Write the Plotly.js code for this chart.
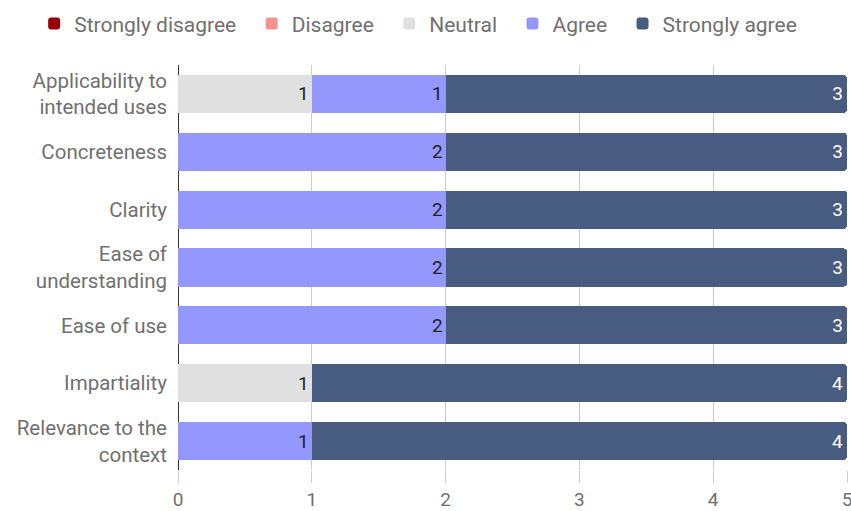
<!DOCTYPE html>
<html>
<head>
<meta charset="utf-8">
<script src="https://cdn.plot.ly/plotly-3.0.1.min.js"></script>
<style>html,body{margin:0;padding:0;background:#fff;}#chart{width:851px;height:511px;}</style>
</head>
<body>
<div id="chart"></div>
<script>
var categories = [
  "Applicability to<br>intended uses",
  "Concreteness",
  "Clarity",
  "Ease of<br>understanding",
  "Ease of use",
  "Impartiality",
  "Relevance to the<br>context"
];
var seriesNames = ["Strongly disagree", "Disagree", "Neutral", "Agree", "Strongly agree"];
var stronglyDisagree = [0, 0, 0, 0, 0, 0, 0];
var disagree         = [0, 0, 0, 0, 0, 0, 0];
var neutral          = [1, 0, 0, 0, 0, 1, 0];
var agree            = [1, 2, 2, 2, 2, 0, 1];
var stronglyAgree    = [3, 3, 3, 3, 3, 4, 4];
var xTicks = [0, 1, 2, 3, 4, 5];

var colors = ["#990000", "#f4928f", "#e0e0e0", "#9497fb", "#485b80"];
var textColors = ["#ffffff", "#222222", "#222222", "#222222", "#ffffff"];
var allValues = [stronglyDisagree, disagree, neutral, agree, stronglyAgree];

var FONT = "Roboto, 'Noto Sans', Arial, sans-serif";
var GRAY = "#707070";
var PAD = "\u00a0\u00a0";

var traces = allValues.map(function (vals, i) {
  return {
    type: "bar",
    orientation: "h",
    name: seriesNames[i] + (i < seriesNames.length - 1 ? PAD : ""),
    y: categories,
    x: vals,
    text: vals.map(function (v) { return v > 0 ? String(v) : ""; }),
    textposition: "inside",
    insidetextanchor: "end",
    textangle: 0,
    constraintext: "none",
    textfont: { family: FONT, size: 19, color: textColors[i] },
    marker: { color: colors[i], line: { width: 0 } },
    hoverinfo: "x+name"
  };
});

var layout = {
  width: 851,
  height: 511,
  margin: { l: 178, r: 4, t: 63, b: 41, pad: 0 },
  barmode: "stack",
  bargap: 0.34,
  barcornerradius: 4,
  paper_bgcolor: "#ffffff",
  plot_bgcolor: "#ffffff",
  font: { family: FONT, size: 21, color: GRAY },
  showlegend: true,
  legend: {
    orientation: "h",
    x: -0.215,
    xanchor: "left",
    y: 1.152,
    yanchor: "top",
    font: { family: FONT, size: 21, color: GRAY },
    traceorder: "normal",
    itemwidth: 30,
    bgcolor: "rgba(0,0,0,0)"
  },
  xaxis: {
    range: [0, 5],
    tickvals: xTicks,
    ticktext: xTicks.map(String),
    ticklabeloverflow: "allow",
    showgrid: true,
    gridcolor: "#cccccc",
    gridwidth: 1,
    zeroline: true,
    zerolinecolor: "#333333",
    zerolinewidth: 1,
    ticks: "outside",
    ticklen: 12,
    tickcolor: "#cccccc",
    tickfont: { family: FONT, size: 19, color: GRAY },
    showline: false,
    fixedrange: true
  },
  yaxis: {
    autorange: "reversed",
    type: "category",
    showgrid: false,
    showline: false,
    ticks: "",
    ticklabelstandoff: 10,
    tickfont: { family: FONT, size: 20.5, color: GRAY },
    fixedrange: true
  }
};

Plotly.newPlot("chart", traces, layout, { displayModeBar: false, staticPlot: true });
</script>
</body>
</html>
